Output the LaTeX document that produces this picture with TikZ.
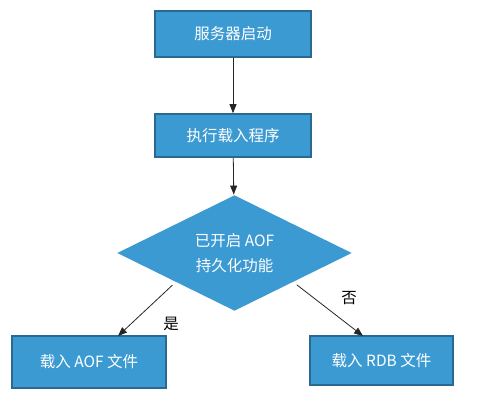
\documentclass[tikz,border=0pt]{standalone}
\usepackage{fontspec}
\usetikzlibrary{arrows.meta,shapes.geometric}
\newfontfamily\cjk{Noto Sans CJK SC}
\definecolor{boxblue}{RGB}{60,154,211}
\definecolor{boxedge}{RGB}{42,106,145}

\begin{document}
\begin{tikzpicture}[x=1pt, y=-1pt, >={Triangle[length=9pt,width=7pt]},
        stepbox/.style={draw=boxedge, line width=1.6pt, fill=boxblue, text=white,
            inner sep=0pt, font=\cjk\fontsize{15.5}{25}\selectfont},
        flowline/.style={->, draw=black!85, line width=0.8pt},
        answer/.style={font=\cjk\fontsize{15.5}{18}\selectfont}]
    \useasboundingbox (0,0) rectangle (486,407);
    \node[stepbox, minimum width=156pt, minimum height=46pt] (start) at (233,34) {服务器启动};
    \node[stepbox, minimum width=156pt, minimum height=43pt] (load) at (233,135.5) {执行载入程序};
    \node[stepbox, draw=none, shape=diamond, aspect=2, minimum width=235pt, minimum height=116pt,
        align=center] (check) at (234.5,253) {已开启 AOF\\持久化功能};
    \node[stepbox, minimum width=154pt, minimum height=52pt] (aof) at (89,362) {载入 AOF 文件};
    \node[stepbox, minimum width=143pt, minimum height=49pt] (rdb) at (381.5,360.5) {载入 RDB 文件};
    \coordinate (aofin) at (118,336);
    \coordinate (rdbin) at (363,336);
    \draw[flowline] (start) -- (load);
    \draw[flowline] (load) -- (check);
    \draw[flowline, shorten <=4pt] (check.south west) -- (aofin);
    \draw[flowline, shorten <=4pt] (check.south east) -- (rdbin);
    \node[answer] (yes) at (171,324) {是};
    \node[answer] (no) at (349,298) {否};
\end{tikzpicture}
\end{document}
